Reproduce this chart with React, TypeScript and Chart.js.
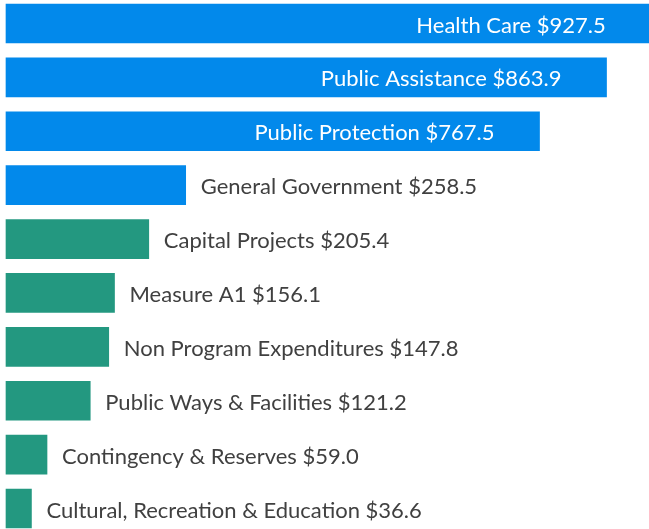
import React, { useEffect, useRef } from "react";
import { Chart, registerables } from "chart.js";

Chart.register(...registerables);

const categories = [
  "Health Care",
  "Public Assistance",
  "Public Protection",
  "General Government",
  "Capital Projects",
  "Measure A1",
  "Non Program Expenditures",
  "Public Ways & Facilities",
  "Contingency & Reserves",
  "Cultural, Recreation & Education",
];

const values = [927.5, 863.9, 767.5, 258.5, 205.4, 156.1, 147.8, 121.2, 59.0, 36.6];

const groups = ["blue", "blue", "blue", "blue", "green", "green", "green", "green", "green", "green"];

const BLUE = "#0289EB";
const GREEN = "#239880";
const TEXT_GRAY = "#404040";
const FONT = "22px Lato";

const labelPlugin = {
  id: "barLabels",
  afterDatasetsDraw(chart: any) {
    const ctx = chart.ctx;
    const meta = chart.getDatasetMeta(0);
    ctx.save();
    ctx.font = FONT;
    ctx.textBaseline = "middle";
    meta.data.forEach((bar: any, i: number) => {
      const text = `${categories[i]} $${values[i].toFixed(1)}`;
      const inside = values[i] > 500;
      if (inside) {
        ctx.fillStyle = "#ffffff";
        ctx.textAlign = "right";
        ctx.fillText(text, bar.x - 45, bar.y + 2);
      } else {
        ctx.fillStyle = TEXT_GRAY;
        ctx.textAlign = "left";
        ctx.fillText(text, bar.x + 15, bar.y + 2);
      }
    });
    ctx.restore();
  },
};

export default function App() {
  const ref = useRef<HTMLCanvasElement | null>(null);

  useEffect(() => {
    if (!ref.current) return;
    const chart = new Chart(ref.current, {
      type: "bar",
      data: {
        labels: categories,
        datasets: [
          {
            data: values,
            backgroundColor: groups.map((g) => (g === "blue" ? BLUE : GREEN)),
            borderWidth: 0,
            barThickness: 39,
            clip: false as any,
          },
        ],
      },
      options: {
        indexAxis: "y",
        responsive: false,
        animation: false,
        layout: { padding: { left: 6, right: 0, top: 23.5, bottom: 20.5 } },
        plugins: {
          legend: { display: false },
          tooltip: { enabled: false },
        },
        scales: {
          x: { display: false, min: 0, max: 925 },
          y: { display: false, offset: false, grid: { display: false } },
        },
      },
      plugins: [labelPlugin],
    });
    return () => chart.destroy();
  }, []);

  return (
    <div style={{ position: "absolute", left: 0, top: 0, width: 649, height: 529, background: "#fff" }}>
      <canvas ref={ref} width={649} height={529} />
    </div>
  );
}
